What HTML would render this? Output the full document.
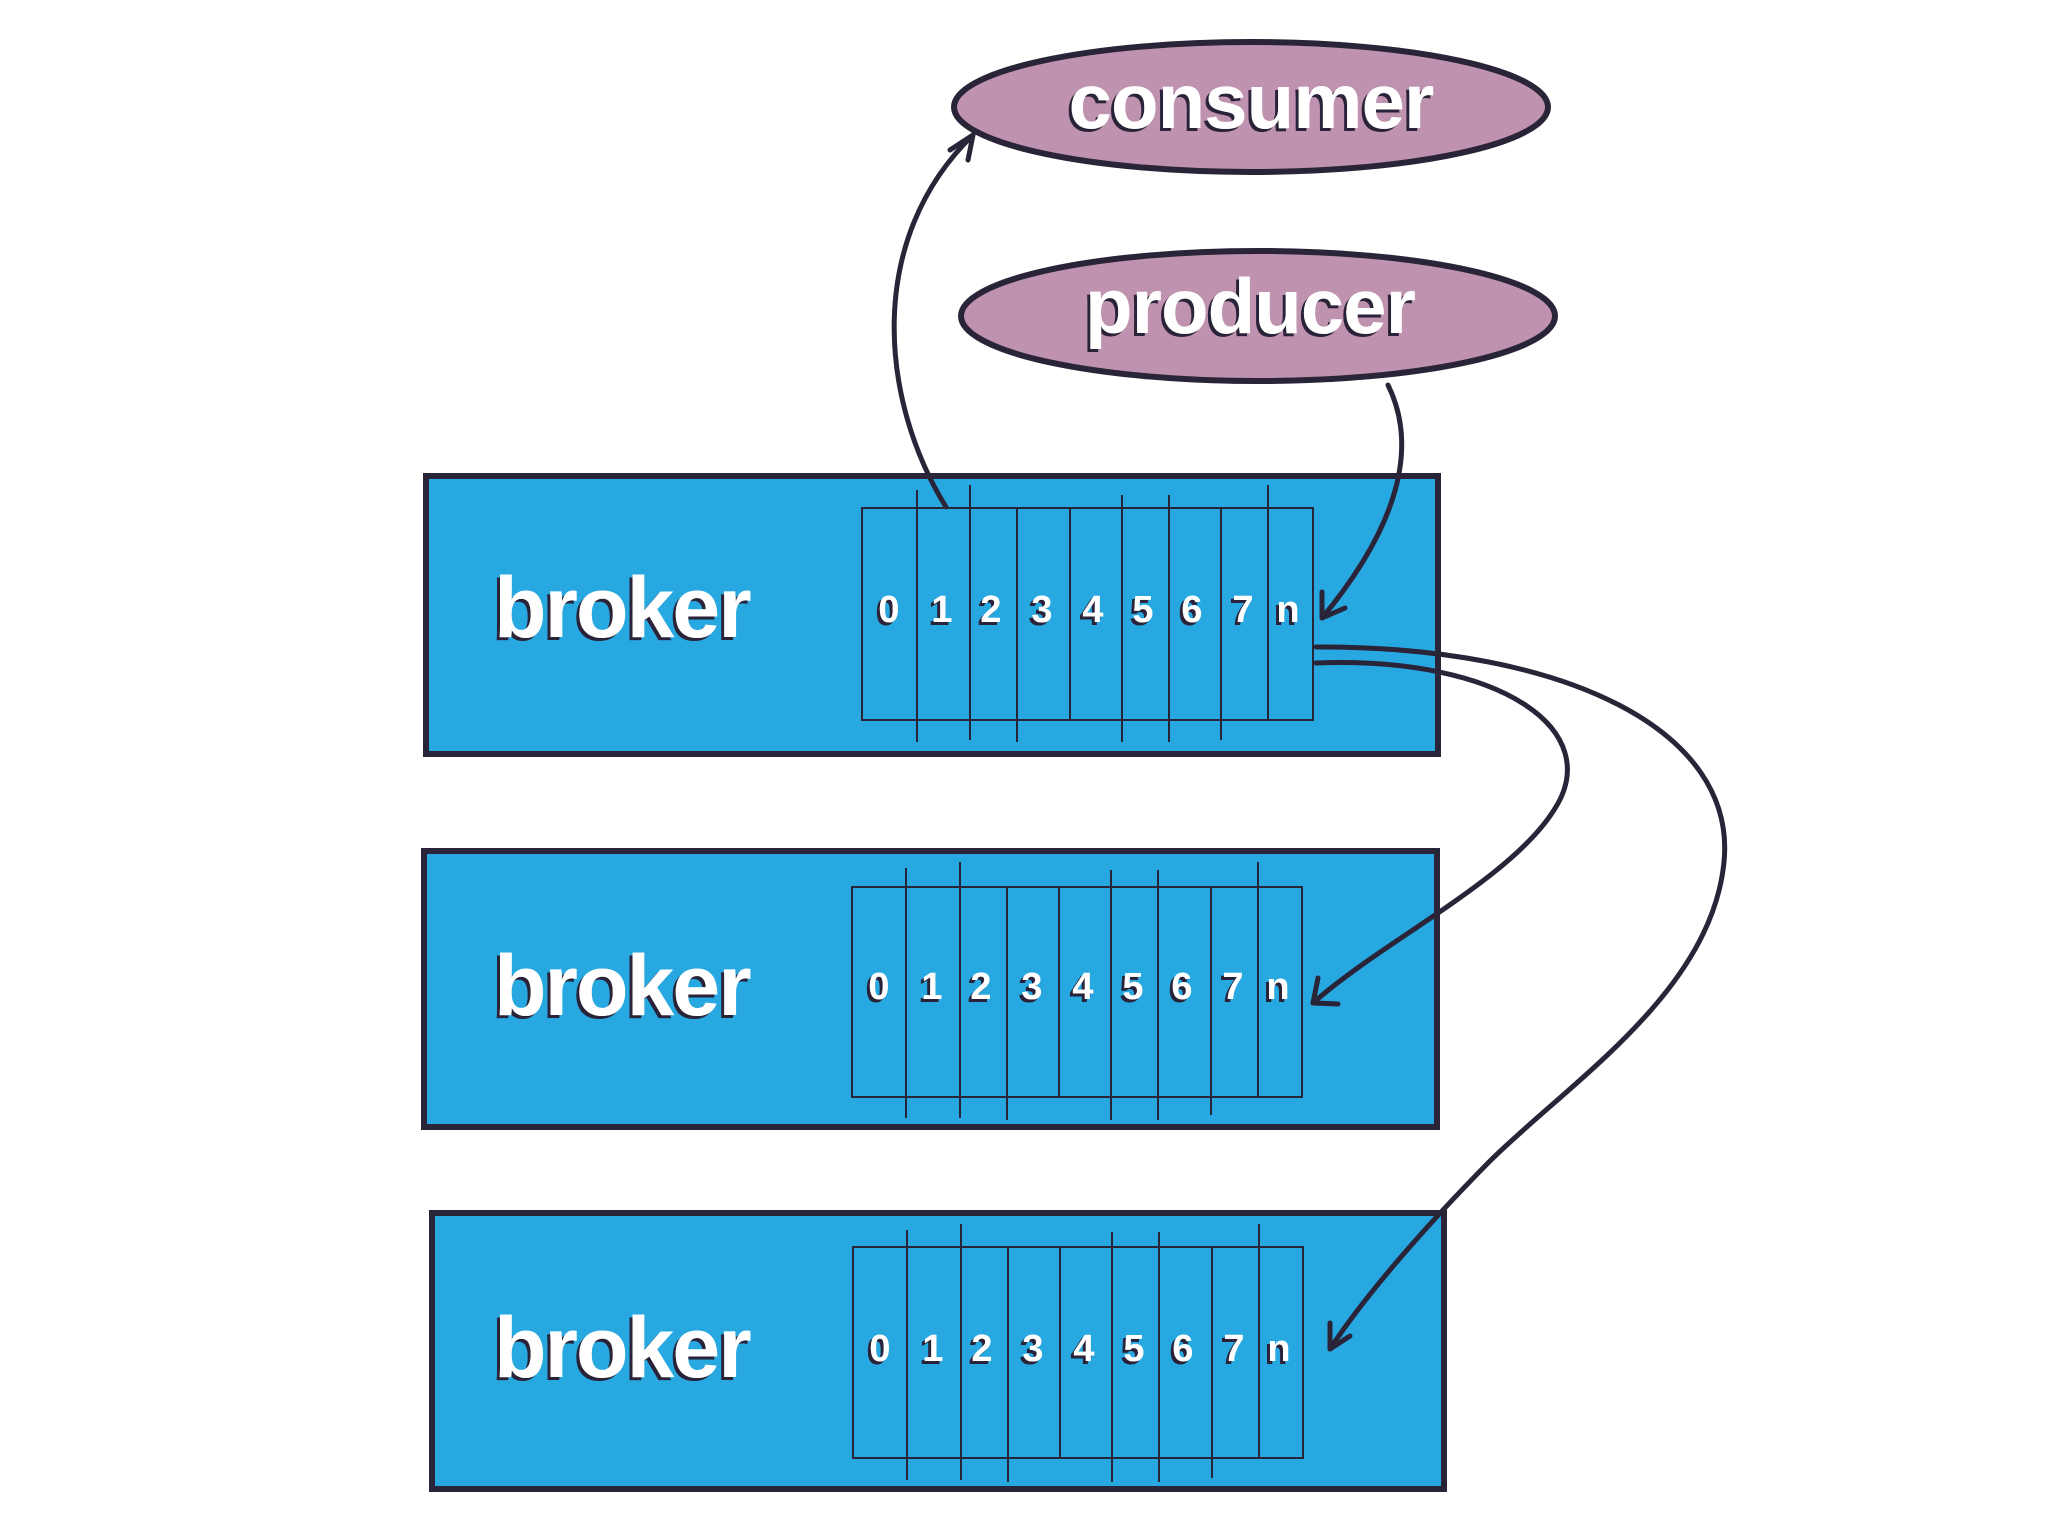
<!DOCTYPE html>
<html><head><meta charset="utf-8"><style>
html,body{margin:0;padding:0;background:#fff;}
svg{display:block}
.bt{font-family:"Liberation Sans",sans-serif;font-weight:bold;fill:#fff;}
</style></head><body>
<svg width="2048" height="1536" viewBox="0 0 2048 1536" xmlns="http://www.w3.org/2000/svg">
<defs>
<filter id="sh"><feDropShadow dx="-3" dy="3" stdDeviation="0" flood-color="#2a2438"/></filter>
</defs>
<ellipse cx="1251" cy="107" rx="297" ry="65" fill="#bf92b0" stroke="#2a2438" stroke-width="6"/>
<text x="1251" y="128" text-anchor="middle" class="bt" font-size="78" letter-spacing="-1" filter="url(#sh)">consumer</text>
<ellipse cx="1258" cy="316" rx="297" ry="65" fill="#bf92b0" stroke="#2a2438" stroke-width="6"/>
<text x="1250" y="333" text-anchor="middle" class="bt" font-size="78" letter-spacing="-1" filter="url(#sh)">producer</text>

<rect x="426" y="476" width="1012" height="278" fill="#27a8e0" stroke="#2a2438" stroke-width="6"/>
<text x="494" y="637" class="bt" font-size="86" letter-spacing="-2" filter="url(#sh)">broker</text>
<g stroke="#2a2438" stroke-width="2" fill="none">
<rect x="862" y="508" width="451" height="212"/>
<line x1="917" y1="490" x2="917" y2="742"/><line x1="970" y1="485" x2="970" y2="740"/>
<line x1="1017" y1="508" x2="1017" y2="742"/><line x1="1070" y1="508" x2="1070" y2="720"/>
<line x1="1122" y1="495" x2="1122" y2="742"/><line x1="1169" y1="495" x2="1169" y2="742"/>
<line x1="1221" y1="508" x2="1221" y2="740"/><line x1="1268" y1="485" x2="1268" y2="720"/>
</g>
<g class="bt" font-size="38" text-anchor="middle" filter="url(#sh)">
<text x="889" y="622">0</text><text x="942" y="622">1</text><text x="991" y="622">2</text><text x="1042" y="622">3</text><text x="1093" y="622">4</text><text x="1143" y="622">5</text><text x="1192" y="622">6</text><text x="1243" y="622">7</text><text x="1288" y="622">n</text>
</g>

<rect x="424" y="851" width="1013" height="276" fill="#27a8e0" stroke="#2a2438" stroke-width="6"/>
<text x="494" y="1015" class="bt" font-size="86" letter-spacing="-2" filter="url(#sh)">broker</text>
<g stroke="#2a2438" stroke-width="2" fill="none">
<rect x="852" y="887" width="450" height="210"/>
<line x1="906" y1="868" x2="906" y2="1118"/><line x1="960" y1="862" x2="960" y2="1118"/>
<line x1="1007" y1="887" x2="1007" y2="1120"/><line x1="1059" y1="887" x2="1059" y2="1097"/>
<line x1="1111" y1="870" x2="1111" y2="1120"/><line x1="1158" y1="870" x2="1158" y2="1120"/>
<line x1="1211" y1="887" x2="1211" y2="1115"/><line x1="1258" y1="862" x2="1258" y2="1097"/>
</g>
<g class="bt" font-size="38" text-anchor="middle" filter="url(#sh)">
<text x="879" y="999">0</text><text x="932" y="999">1</text><text x="981" y="999">2</text><text x="1032" y="999">3</text><text x="1083" y="999">4</text><text x="1133" y="999">5</text><text x="1182" y="999">6</text><text x="1233" y="999">7</text><text x="1278" y="999">n</text>
</g>

<rect x="432" y="1213" width="1012" height="276" fill="#27a8e0" stroke="#2a2438" stroke-width="6"/>
<text x="494" y="1377" class="bt" font-size="86" letter-spacing="-2" filter="url(#sh)">broker</text>
<g stroke="#2a2438" stroke-width="2" fill="none">
<rect x="853" y="1247" width="450" height="211"/>
<line x1="907" y1="1230" x2="907" y2="1480"/><line x1="961" y1="1224" x2="961" y2="1480"/>
<line x1="1008" y1="1247" x2="1008" y2="1482"/><line x1="1060" y1="1247" x2="1060" y2="1458"/>
<line x1="1112" y1="1232" x2="1112" y2="1482"/><line x1="1159" y1="1232" x2="1159" y2="1482"/>
<line x1="1212" y1="1247" x2="1212" y2="1478"/><line x1="1259" y1="1224" x2="1259" y2="1458"/>
</g>
<g class="bt" font-size="38" text-anchor="middle" filter="url(#sh)">
<text x="880" y="1361">0</text><text x="933" y="1361">1</text><text x="982" y="1361">2</text><text x="1033" y="1361">3</text><text x="1084" y="1361">4</text><text x="1134" y="1361">5</text><text x="1183" y="1361">6</text><text x="1234" y="1361">7</text><text x="1279" y="1361">n</text>
</g>

<g stroke="#2a2438" stroke-width="5" fill="none" stroke-linecap="round" stroke-linejoin="round">
<path d="M946,507 C880,400 865,240 973,135"/>
<path d="M950,150 L973,135 L968,160"/>
<path d="M1388,385 C1420,450 1395,530 1322,618"/>
<path d="M1322,592 L1322,618 L1345,608"/>
<path d="M1316,663 C1502,656 1606,731 1554,810 C1510,880 1384,940 1313,1003"/>
<path d="M1318,978 L1313,1003 L1338,1004"/>
<path d="M1316,647 C1567,646 1737,731 1724,862 C1711,993 1567,1084 1489,1162 C1411,1241 1358,1306 1330,1349"/>
<path d="M1330,1323 L1330,1349 L1350,1336"/>
</g>
</svg>
</body></html>
